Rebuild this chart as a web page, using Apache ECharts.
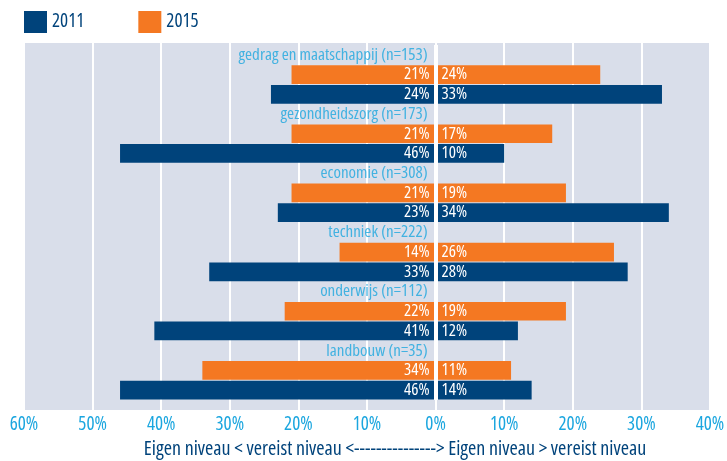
<!DOCTYPE html>
<html>
<head>
<meta charset="utf-8">
<script src="https://cdn.jsdelivr.net/npm/echarts@6/dist/echarts.min.js"></script>
<style>
  html, body { margin: 0; padding: 0; background: #fff; }
  #chart { width: 727px; height: 461px; }
</style>
</head>
<body>
<div id="chart"></div>
<script>
// sectors, top to bottom
const categories = [
  'gedrag en maatschappij (n=153)',
  'gezondheidszorg (n=173)',
  'economie (n=308)',
  'techniek (n=222)',
  'onderwijs (n=112)',
  'landbouw (n=35)'
];
// % eigen niveau < vereist niveau (left side)
const below2015 = [21, 21, 21, 14, 22, 34];
const below2011 = [24, 46, 23, 33, 41, 46];
// % eigen niveau > vereist niveau (right side)
const above2015 = [24, 17, 19, 26, 19, 11];
const above2011 = [33, 10, 34, 28, 12, 14];

const axisTitle = 'Eigen niveau < vereist niveau <---------------> Eigen niveau > vereist niveau';

const NAVY = '#00437b';
const ORANGE = '#f47822';
const LIGHTBLUE = '#1ba6df';
const FONT = '"Open Sans", sans-serif';
const NARROW = 'normal condensed';

// every sector takes three rows: its name, the 2015 bar, the 2011 bar
const slots = [];
const names = [];
const l15 = [], r15 = [], l11 = [], r11 = [];
categories.forEach((name, i) => {
  const row = slots.length;
  slots.push('r' + row, 'r' + (row + 1), 'r' + (row + 2));
  names.push([0, row, name]);
  l15.push('-', -below2015[i], '-');
  r15.push('-', above2015[i], '-');
  l11.push('-', '-', -below2011[i]);
  r11.push('-', '-', above2011[i]);
});

const pctLabel = (p) => Math.abs(p.value) + '%';

const barSeries = (name, data, color, side) => ({
  name: name,
  type: 'bar',
  xAxisIndex: 1,
  yAxisIndex: 1,
  stack: 'all',
  barWidth: '95%',
  data: data,
  itemStyle: { color: color },
  label: {
    show: true,
    position: side === 'left' ? 'insideRight' : 'insideLeft',
    distance: 6,
    color: '#fff',
    fontFamily: FONT,
    fontStyle: 'normal',
    fontWeight: NARROW,
    fontSize: 17,
    formatter: pctLabel
  }
});

const chart = echarts.init(document.getElementById('chart'));

const series = [
  barSeries('2011', l11, NAVY, 'left'),
  barSeries('2011', r11, NAVY, 'right'),
  barSeries('2015', l15, ORANGE, 'left'),
  barSeries('2015', r15, ORANGE, 'right'),
  {
    type: 'scatter',
    xAxisIndex: 1,
    yAxisIndex: 1,
    symbolSize: 0,
    silent: true,
    data: names,
    label: {
      show: true,
      position: 'left',
      distance: 8,
      color: LIGHTBLUE,
      fontFamily: FONT,
      fontStyle: 'normal',
      fontWeight: NARROW,
      fontSize: 17,
      formatter: (p) => p.data[2]
    }
  }
];
series[3].markLine = {
  silent: true,
  symbol: 'none',
  label: { show: false },
  lineStyle: { color: '#fff', width: 4, type: 'solid' },
  data: [{ xAxis: 0 }]
};

chart.setOption({
  animation: false,
  legend: {
    data: ['2011', '2015'],
    left: 24,
    top: 11,
    padding: 0,
    itemWidth: 23,
    itemHeight: 22,
    itemGap: 54,
    icon: 'rect',
    textStyle: { color: NAVY, fontSize: 19, fontFamily: FONT, fontStyle: 'normal', fontWeight: NARROW }
  },
  grid: [
    { left: 24, right: 17, top: 43, bottom: 51, show: true, backgroundColor: '#d9deea', borderWidth: 0, outerBoundsMode: 'none' },
    { left: 24, right: 17, top: 45, bottom: 61, outerBoundsMode: 'none' }
  ],
  xAxis: [
    {
      gridIndex: 0,
      type: 'value',
      min: -60,
      max: 40,
      interval: 10,
      axisLine: { show: false },
      axisTick: { show: false },
      splitLine: { lineStyle: { color: '#fff', width: 2 } },
      axisLabel: {
        color: LIGHTBLUE,
        fontSize: 19,
        fontFamily: FONT,
        fontStyle: 'normal',
        fontWeight: NARROW,
        margin: 5,
        formatter: (v) => Math.abs(v) + '%'
      },
      name: axisTitle,
      nameLocation: 'middle',
      nameGap: 28,
      nameTextStyle: {
        color: NAVY,
        fontSize: 20,
        fontFamily: FONT,
        fontStyle: 'normal',
        fontWeight: NARROW,
        padding: [0, 0, 0, 56]
      }
    },
    {
      gridIndex: 1,
      type: 'value',
      min: -60,
      max: 40,
      show: false
    }
  ],
  yAxis: [
    { gridIndex: 0, type: 'value', show: false },
    {
      gridIndex: 1,
      type: 'category',
      inverse: true,
      data: slots,
      show: false
    }
  ],
  series: series
});
</script>
</body>
</html>
